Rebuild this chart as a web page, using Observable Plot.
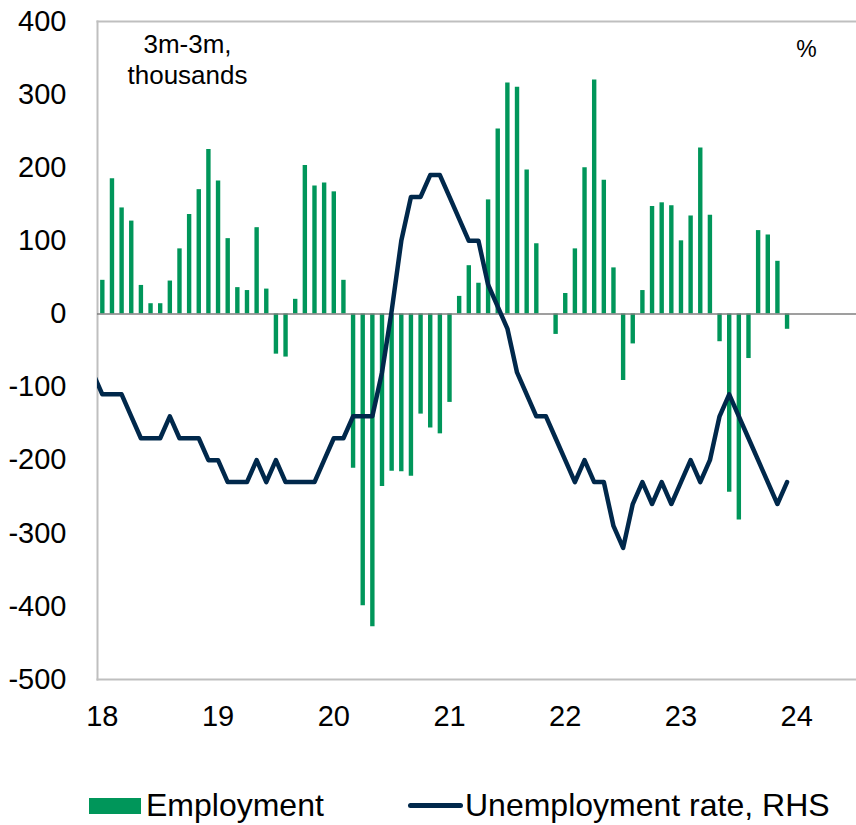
<!DOCTYPE html>
<html>
<head>
<meta charset="utf-8">
<script src="https://cdn.jsdelivr.net/npm/d3@7"></script>
<script src="https://cdn.jsdelivr.net/npm/@observablehq/plot@0.6"></script>
<style>
  html, body { margin: 0; padding: 0; background: #fff; }
  #wrap { width: 856px; font-family: 'Liberation Sans', Arial, sans-serif; color: #000; }
  #legend { position: relative; width: 856px; height: 80px; }
  #legend .sw { position: absolute; }
  #legend .tx { position: absolute; font-size: 32px; line-height: 32px; white-space: nowrap; }
</style>
</head>
<body>
<div id="wrap">
  <div id="chart"></div>
  <div id="legend"></div>
</div>
<script>
// Year tick labels (positioned at January of each year; month index 0 = Jan 2018)
const yearLabels = ["18", "19", "20", "21", "22", "23", "24"];
const yearTickMonths = [0, 12, 24, 36, 48, 60, 72];
const yTicks = [400, 300, 200, 100, 0, -100, -200, -300, -400, -500];

// Employment, 3m-3m change, thousands: Jan 2018 .. Dec 2023
const employment = [
  46, 185, 145, 127, 39, 14, 14, 45, 89, 136, 170, 225,
  182, 103, 36, 32, 118, 34, -55, -59, 20, 203, 175, 179,
  167, 46, -211, -399, -428, -236, -215, -216, -222, -137, -156, -164,
  -121, 24, 66, 42, 156, 253, 316, 310, 197, 96, 0, -28,
  28, 89, 200, 320, 183, 63, -91, -41, 32, 147, 152, 148,
  100, 134, 227, 135, -38, -244, -282, -61, 114, 108, 72, -21
];

// Unemployment rate, %, (RHS): Dec 2017 .. Dec 2023
const unemploymentRate = [
  4.3,
  4.2, 4.2, 4.2, 4.1, 4.0, 4.0, 4.0, 4.1, 4.0, 4.0, 4.0, 3.9,
  3.9, 3.8, 3.8, 3.8, 3.9, 3.8, 3.9, 3.8, 3.8, 3.8, 3.8, 3.9,
  4.0, 4.0, 4.1, 4.1, 4.1, 4.3, 4.58, 4.9, 5.1, 5.1, 5.2, 5.2,
  5.1, 5.0, 4.9, 4.9, 4.7, 4.6, 4.5, 4.3, 4.2, 4.1, 4.1, 4.0,
  3.9, 3.8, 3.9, 3.8, 3.8, 3.6, 3.5, 3.7, 3.8, 3.7, 3.8, 3.7,
  3.8, 3.9, 3.8, 3.9, 4.1, 4.2, 4.1, 4.0, 3.9, 3.8, 3.7, 3.8
];
const rateStartIndex = -1; // first rate value is Dec 2017

// RHS axis domain (%), mapped onto the LHS domain
const rhsDomain = [2.9, 5.9];
const lhsDomain = [-500, 400];
const rhs = d3.scaleLinear().domain(rhsDomain).range(lhsDomain);

const green = "#00965A";
const navy = "#00284B";
const axisGrey = "#BFBFBF";

const empData = employment.map((v, i) => ({ month: i, value: v }));
const rateData = unemploymentRate.map((u, k) => ({ month: k + rateStartIndex, rate: u }));

const chart = Plot.plot({
  width: 856,
  height: 745,
  marginLeft: 97,
  marginRight: 0,
  marginTop: 21,
  marginBottom: 66,
  style: { fontFamily: "'Liberation Sans', Arial, sans-serif", color: "#000", background: "#fff", overflow: "visible" },
  x: { type: "linear", domain: [-0.5, 78.2] },
  y: { domain: lhsDomain },
  marks: [
    Plot.frame({ anchor: "left", stroke: axisGrey, strokeWidth: 2 }),
    Plot.frame({ anchor: "top", stroke: axisGrey, strokeWidth: 2 }),
    Plot.frame({ anchor: "bottom", stroke: axisGrey, strokeWidth: 2 }),
    Plot.ruleX(empData, { x: "month", y1: 0, y2: "value", stroke: green, strokeWidth: 4.4 }),
    Plot.ruleY([0], { stroke: "#7F7F7F", strokeWidth: 1.5 }),
    Plot.line(rateData, {
      x: "month", y: d => rhs(d.rate),
      stroke: navy, strokeWidth: 4.5, strokeLinejoin: "round", clip: true
    }),
    Plot.axisY(yTicks, {
      tickSize: 0, tickPadding: 31, fontSize: 29, label: null,
      tickFormat: d => String(d)
    }),
    Plot.axisX(yearTickMonths, {
      tickSize: 0, tickPadding: 26, fontSize: 29, label: null,
      tickFormat: d => yearLabels[yearTickMonths.indexOf(d)]
    }),
    Plot.text(["3m-3m,\nthousands"], {
      frameAnchor: "top-left", dx: 90, dy: 9, textAnchor: "middle",
      lineAnchor: "top", lineHeight: 1.2, fontSize: 26, fill: "#000"
    }),
    Plot.text(["%"], {
      frameAnchor: "top-right", dx: -50, dy: 19, textAnchor: "middle",
      lineAnchor: "top", fontSize: 23, fill: "#000"
    })
  ]
});
document.getElementById("chart").appendChild(chart);

// Legend
const legendItems = [
  { label: "Employment", type: "bar", color: green },
  { label: "Unemployment rate, RHS", type: "line", color: navy }
];
const legend = document.getElementById("legend");
const layout = [
  { swLeft: 89, swTop: 53, swW: 52, swH: 16, txLeft: 146 },
  { swLeft: 408, swTop: 57.5, swW: 55, swH: 5, txLeft: 465 }
];
legendItems.forEach((item, k) => {
  const L = layout[k];
  const sw = document.createElement("div");
  sw.className = "sw";
  sw.style.left = L.swLeft + "px";
  sw.style.top = L.swTop + "px";
  sw.style.width = L.swW + "px";
  sw.style.height = L.swH + "px";
  sw.style.background = item.color;
  if (item.type === "line") sw.style.borderRadius = "3px";
  legend.appendChild(sw);
  const tx = document.createElement("div");
  tx.className = "tx";
  tx.style.left = L.txLeft + "px";
  tx.style.top = "44px";
  tx.textContent = item.label;
  legend.appendChild(tx);
});
</script>
</body>
</html>
